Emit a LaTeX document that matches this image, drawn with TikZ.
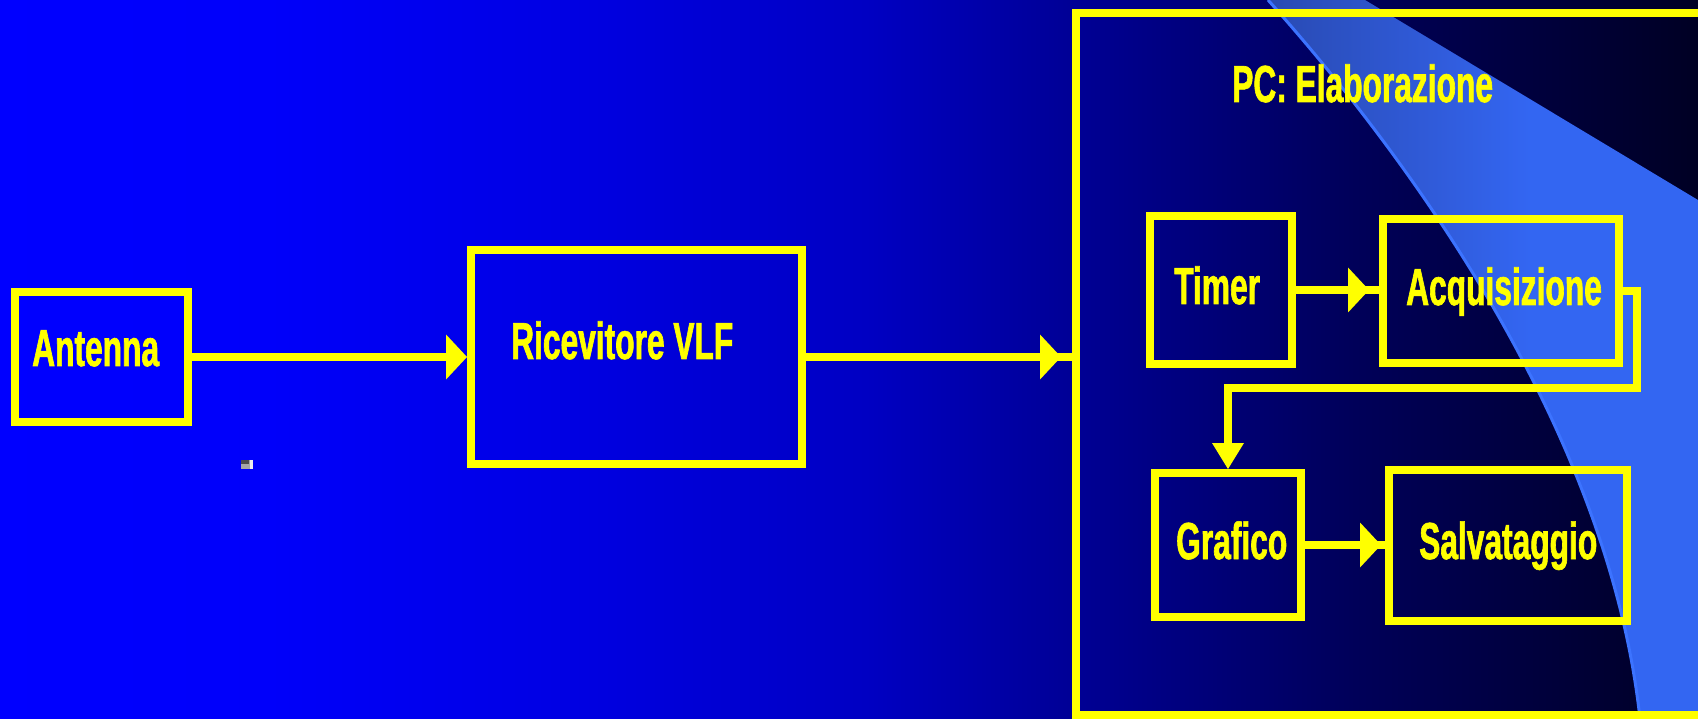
\documentclass[tikz,border=0pt]{standalone}
\usepackage{fontspec}
\newfontfamily\labfont[FakeStretch=0.61, BoldFeatures={FakeBold=1.2}]{Liberation Sans}
\usetikzlibrary{arrows.meta}
\definecolor{ylw}{RGB}{255,255,0}
\definecolor{bandedge}{RGB}{60,115,255}
\pgfdeclarehorizontalshading{bgshade}{100bp}{rgb(0bp)=(0,0,1); rgb(25bp)=(0,0,1); rgb(32.95bp)=(0,0,.98); rgb(40.93bp)=(0,0,.9); rgb(50.5bp)=(0,0,.765); rgb(56.42bp)=(0,0,.59); rgb(64.87bp)=(0,0,.35); rgb(75bp)=(0,0,.14); rgb(100bp)=(0,0,.14)}
\pgfdeclarehorizontalshading{bandshade}{100bp}{rgb(0bp)=(.16,.29,.70); rgb(25bp)=(.16,.29,.70); rgb(45bp)=(.19,.36,.86); rgb(55.5bp)=(.2,.4,.95); rgb(75bp)=(.2,.4,.95); rgb(100bp)=(.2,.4,.95)}
\begin{document}
\begin{tikzpicture}[x=1pt,y=-1pt,
  box/.style={draw=ylw, line width=8pt, rectangle, inner sep=0pt},
  txt/.style={text=ylw, font=\labfont\bfseries\fontsize{52pt}{60pt}\selectfont, inner sep=0pt, anchor=base west},
  conn/.style={draw=ylw, line width=8pt, line join=miter},
  arr/.style={conn, -{Triangle[length=21pt,width=45pt,line width=0pt]}},
  arrd/.style={conn, -{Triangle[length=26pt,width=32pt,line width=0pt]}}]
\clip (0,0) rectangle (1698,719);
% background
\shade[shading=bgshade] (0,0) rectangle (1698,719);
% light band
\shade[shading=bandshade] (1268,0) .. controls (1420,170) and (1610,440) .. (1640,719) -- (1698,719) -- (1698,200) -- (1365,0) -- cycle;
\draw[bandedge, line width=3pt] (1268,0) .. controls (1420,170) and (1610,440) .. (1640,719);
% small artifact
\fill[gray!70] (241,460) rectangle (253,469);
\fill[black!70] (241,460) rectangle (249,464);
\fill[white!85!gray] (250,460) rectangle (253,469);
% boxes
\node[box, minimum width=173pt, minimum height=130pt] (ant) at (101.5,357) {};
\node[box, minimum width=331pt, minimum height=213pt] (rec) at (636.5,357) {};
\node[box, minimum width=644pt, minimum height=702pt] (pc) at (1398,364) {};
\node[box, minimum width=142pt, minimum height=148pt] (tim) at (1221,290) {};
\node[box, minimum width=236pt, minimum height=144pt] (acq) at (1501,291) {};
\node[box, minimum width=146pt, minimum height=144pt] (gra) at (1228,545) {};
\node[box, minimum width=238pt, minimum height=151pt] (sal) at (1508,545.5) {};
% texts
\node[txt] (tant) at (32,366) {Antenna};
\node[txt] (trec) at (511,359) {Ricevitore VLF};
\node[txt] (tpc) at (1232,102) {PC: Elaborazione};
\node[txt] (ttim) at (1174,304) {Timer};
\node[txt] (tacq) at (1406,305) {Acquisizione};
\node[txt] (tgra) at (1176,559) {Grafico};
\node[txt] (tsal) at (1419,559) {Salvataggio};
% connectors
\coordinate (k1) at (1637,388);
\draw[arr] (ant.east) -- (rec.west);
\draw[conn] (rec.east) -- (rec.east -| pc.west);
\draw[arr, shorten >=11pt] (rec.east) -- (rec.east -| pc.west);
\draw[conn] (tim.east) -- (tim.east -| acq.west);
\draw[arr, shorten >=10pt] (tim.east) -- (tim.east -| acq.west);
\draw[conn] (gra.east) -- (gra.east -| sal.west);
\draw[arr, shorten >=4pt] (gra.east) -- (gra.east -| sal.west);
\draw[arrd] (acq.east) -| (k1) -| (gra.north);
\end{tikzpicture}
\end{document}
